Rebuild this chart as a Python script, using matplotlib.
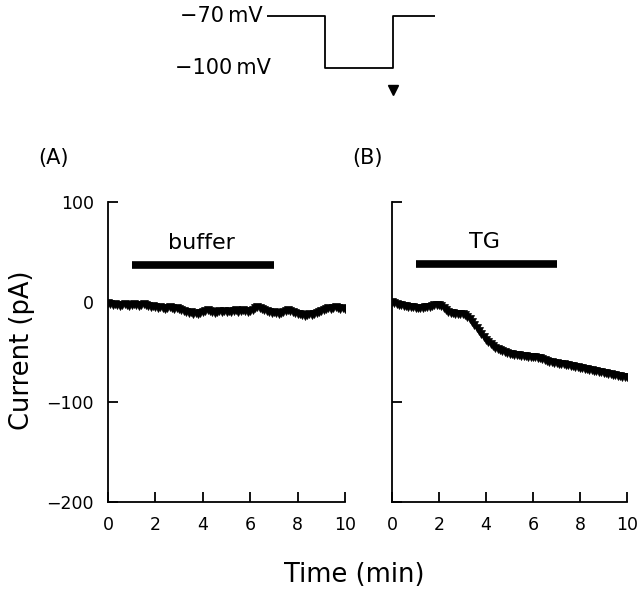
import numpy as np
import matplotlib
matplotlib.use("Agg")
import matplotlib.pyplot as plt

plt.rcParams['font.family'] = ['DejaVu Sans']

# ---- data ----
time_min = [round(0.1 * i, 1) for i in range(101)]

current_buffer = [
    -1, -2, -3, -2, -3, -4, -3, -2, -3, -4, -3,
    -2, -3, -4, -3, -2, -3, -4, -5, -4, -5,
    -6, -5, -6, -7, -6, -5, -6, -7, -6, -7,
    -8, -9, -10, -11, -10, -12, -11, -12, -11, -10,
    -9, -8, -9, -10, -11, -10, -9, -10, -9, -10,
    -9, -10, -9, -8, -10, -9, -8, -9, -10, -9,
    -8, -6, -5, -6, -7, -8, -9, -10, -11, -10,
    -11, -12, -11, -10, -9, -8, -9, -10, -11, -12,
    -12, -13, -14, -13, -12, -13, -12, -11, -10, -9,
    -8, -7, -6, -7, -6, -5, -6, -7, -6, -7,
]

current_tg = [
    0, -1, -2, -3, -3, -4, -4, -5, -5, -5, -6,
    -6, -6, -6, -5, -5, -5, -4, -3, -3, -3,
    -4, -6, -8, -10, -11, -11, -12, -12, -12, -12,
    -13, -15, -17, -20, -23, -26, -29, -32, -35, -38,
    -40, -42, -44, -46, -47, -48, -49, -50, -51, -52,
    -52, -53, -53, -53, -54, -54, -54, -55, -55, -55,
    -55, -56, -56, -57, -58, -59, -60, -60, -61, -61,
    -62, -62, -62, -63, -63, -64, -64, -65, -65, -66,
    -66, -67, -67, -68, -68, -69, -69, -70, -70, -71,
    -71, -72, -72, -73, -73, -74, -74, -75, -75, -75,
]

treatments = ["buffer", "TG"]
treat_start = [1, 1]
treat_end = [7, 7]
bar_level = [37, 38]
panel_labels = ["(A)", "(B)"]

x_ticks = [0, 2, 4, 6, 8, 10]
y_ticks = [-200, -100, 0, 100]

# voltage protocol
protocol_t = [0, 58, 58, 126, 126, 168]
protocol_v = [-70, -70, -100, -100, -70, -70]
sample_t = [126]
sample_v = [-113]

# ---- figure ----
fig = plt.figure(figsize=(6.4, 5.92), dpi=100)

W, H = 640, 592
def fr(x0, y_top, x1, y_bot):
    return [x0 / W, 1 - y_bot / H, (x1 - x0) / W, (y_bot - y_top) / H]

axA = fig.add_axes(fr(108, 202, 345, 502))
axB = fig.add_axes(fr(392, 202, 627, 502))

for ax, data, name, t0, t1, lvl, lab in zip(
        [axA, axB], [current_buffer, current_tg], treatments,
        treat_start, treat_end, bar_level, panel_labels):
    ax.plot(time_min, data, linestyle='none', marker='v', markersize=6,
            color='black', markeredgewidth=0.5)
    ax.plot([t0, t1], [lvl, lvl], color='black', linewidth=5.5,
            solid_capstyle='butt')
    ax.text((t0 + t1) / 2 - 0.05, lvl + 12, name, ha='center', va='bottom',
            fontsize=16)
    ax.set_xlim(0, 10)
    ax.set_ylim(-200, 100)
    ax.set_xticks(x_ticks)
    ax.set_yticks(y_ticks)
    for s in ['top', 'right']:
        ax.spines[s].set_visible(False)
    for s in ['left', 'bottom']:
        ax.spines[s].set_linewidth(1.3)
    ax.tick_params(direction='in', length=7, width=1.3, labelsize=12.5, pad=10)
    ax.set_xticklabels([str(t) for t in x_ticks])

axA.set_yticklabels(["\u2212200", "\u2212100", "0", "100"])
axB.set_yticklabels([])

fig.text(54 / W, 1 - 158 / H, panel_labels[0], ha='center', va='center', fontsize=15)
fig.text(368 / W, 1 - 158 / H, panel_labels[1], ha='center', va='center', fontsize=15)

fig.text(22 / W, 1 - 350 / H, "Current (pA)", rotation=90, ha='center',
         va='center', fontsize=18.5)
fig.text(354 / W, 1 - 575 / H, "Time (min)", ha='center', va='center',
         fontsize=18.5)

# protocol inset
axP = fig.add_axes(fr(267, 10, 435, 100))
axP.plot(protocol_t, protocol_v, color='black', linewidth=1.3)
axP.plot(sample_t, sample_v, linestyle='none', marker='v', markersize=7,
         color='black')
axP.set_xlim(0, 168)
axP.set_ylim(-118.5, -66.5)
axP.axis('off')

fig.text(263 / W, 1 - 16 / H, "\u221270\u2009mV", ha='right', va='center',
         fontsize=15)
fig.text(271 / W, 1 - 68 / H, "\u2212100\u2009mV", ha='right', va='center',
         fontsize=15)

fig.savefig("out.png", dpi=100)
